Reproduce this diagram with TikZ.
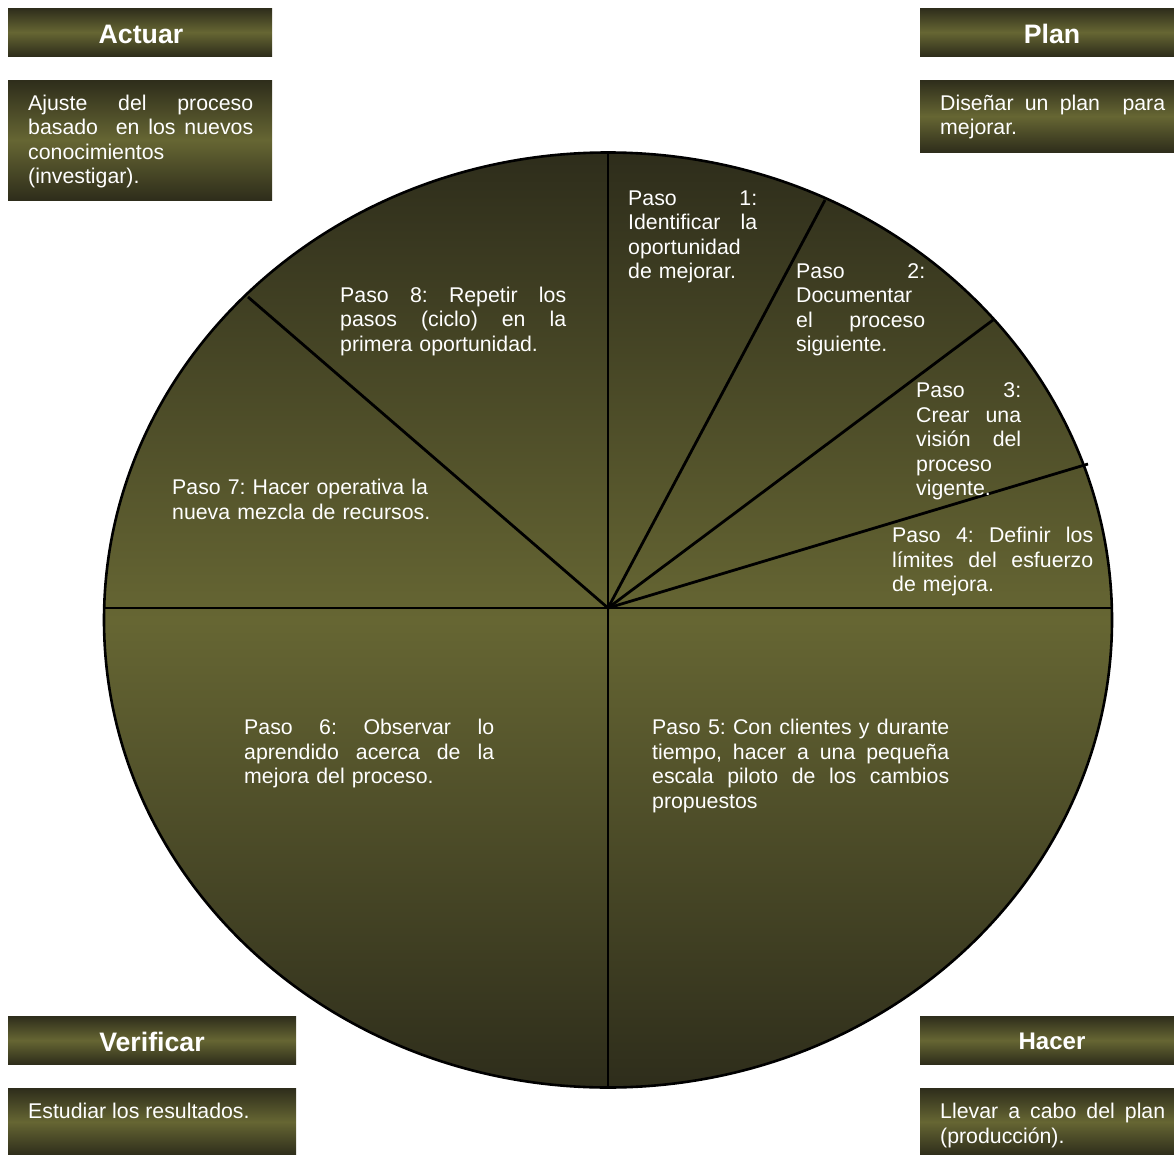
\documentclass[tikz,border=0pt]{standalone}
\usepackage{fontspec}
\setmainfont{Liberation Sans}
\usetikzlibrary{shapes.geometric}
\definecolor{dk}{RGB}{46,45,27}
\definecolor{ol}{RGB}{102,102,51}
% a line of text stretched to the full width of its box
\newcommand\jline[1]{\makebox[\hsize][s]{\spaceskip=0pt\xspaceskip=0pt\relax #1}}
\frenchspacing

\begin{document}
\begin{tikzpicture}[x=1pt,y=-1pt,
  band/.style={rectangle, inner sep=0pt, anchor=north west, draw=none,
               top color=dk, bottom color=dk, middle color=ol},
  head/.style={text=white, inner sep=0pt,
               font=\bfseries\fontsize{26.7}{30}\selectfont},
  body/.style={text=white, inner sep=0pt, anchor=base west,
               font=\fontsize{21.3}{24.5}\selectfont},
  divider/.style={line width=2.8pt, draw=black}]

\useasboundingbox (0,0) rectangle (1174,1155);

% ---- corner bands ----
\node[band, minimum width=264pt, minimum height=48pt] (actH) at (8,8) {};
\node[band, minimum width=264pt, minimum height=120pt] (actB) at (8,80) {};
\node[band, minimum width=264pt, minimum height=48pt] (planH) at (920,8) {};
\node[band, minimum width=264pt, minimum height=72pt] (planB) at (920,80) {};
\node[band, minimum width=288pt, minimum height=48pt] (verH) at (8,1016) {};
\node[band, minimum width=288pt, minimum height=67pt] (verB) at (8,1088) {};
\node[band, minimum width=264pt, minimum height=48pt] (hacH) at (920,1016) {};
\node[band, minimum width=264pt, minimum height=67pt] (hacB) at (920,1088) {};

\node[head] (actT) at (141,34) {Actuar};
\node[head] (planT) at (1052,34) {Plan};
\node[head] (verT) at (152,1042) {Verificar};
\node[head, font=\bfseries\fontsize{24}{28}\selectfont] (hacT) at (1052,1041) {Hacer};

\node[body, text width=225pt] (actX) at (28,110.5)
  {\jline{Ajuste del proceso}\\ \jline{basado\ \ en los nuevos}\\ conocimientos\\ (investigar).};
\node[body, text width=225pt] (planX) at (940,110.5)
  {\jline{Diseñar un plan\ \ para}\\ mejorar.};
\node[body] (verX) at (28,1118.5) {Estudiar los resultados.};
\node[body, text width=225pt] (hacX) at (940,1118.5)
  {\jline{Llevar a cabo del plan}\\ (producción).};

% ---- the wheel ----
\node[ellipse, inner sep=0pt, minimum width=1008pt, minimum height=935pt,
      line width=2.6pt, draw=black,
      top color=dk, bottom color=dk, middle color=ol] (wheel) at (608,620) {};

\coordinate (hub) at (608,608);
\coordinate (s1) at (825,200);
\coordinate (s2) at (993,320);
\coordinate (s3) at (1088,464);
\coordinate (s8) at (248,297);
\coordinate (lft) at (104,608);
\coordinate (rgt) at (1112,608);

\draw[divider] (wheel.north) -- (wheel.south);
\draw[divider] (lft) -- (rgt);
\draw[divider] (hub) -- (s1);
\draw[divider] (hub) -- (s2);
\draw[divider] (hub) -- (s3);
\draw[divider] (hub) -- (s8);

% ---- step labels ----
\node[body, text width=129pt] (p1) at (628,205.5)
  {\jline{Paso 1:}\\ \jline{Identificar la}\\ oportunidad\\ de mejorar.};
\node[body, text width=129pt] (p2) at (796,278.5)
  {\jline{Paso 2:}\\ Documentar\\ \jline{el proceso}\\ siguiente.};
\node[body, text width=105pt] (p3) at (916,397.5)
  {\jline{Paso 3:}\\ \jline{Crear una}\\ \jline{visión del}\\ proceso\\ vigente.};
\node[body, text width=201pt] (p4) at (892,542.5)
  {\jline{Paso 4: Definir los}\\ \jline{límites del esfuerzo}\\ de mejora.};
\node[body, text width=297pt] (p5) at (652,734.5)
  {\jline{Paso 5: Con clientes y durante}\\ \jline{tiempo, hacer a una pequeña}\\
   \jline{escala piloto de los cambios}\\ propuestos};
\node[body, text width=250pt] (p6) at (244,734.5)
  {\jline{Paso 6: Observar lo}\\ \jline{aprendido acerca de la}\\ mejora del proceso.};
\node[body, text width=270pt] (p7) at (172,494.5)
  {Paso 7: Hacer operativa la\\ nueva mezcla de recursos.};
\node[body, text width=226pt] (p8) at (340,302.5)
  {\jline{Paso 8: Repetir los}\\ \jline{pasos (ciclo) en la}\\ primera oportunidad.};

\end{tikzpicture}
\end{document}
